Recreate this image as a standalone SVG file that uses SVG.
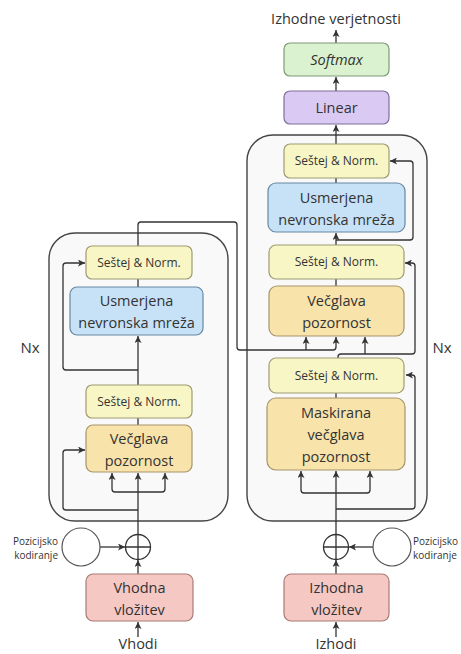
<svg xmlns="http://www.w3.org/2000/svg" width="461" height="654" viewBox="0 0 461 654">
<defs>
<marker id="ah" viewBox="0 0 10 10" refX="10" refY="5" markerWidth="7" markerHeight="7" markerUnits="userSpaceOnUse" orient="auto">
<path d="M0,0 L10,5 L0,10 L2.5,5 z" fill="#333"/>
</marker>
<style>
.c{fill:#f9f9f9;stroke:#444;stroke-width:1.4}
.b{stroke-width:1.2}
.add{fill:#f9f6c6;stroke:#9e9c72}
.ffn{fill:#c7e2f7;stroke:#6688a4}
.mha{fill:#f8e3ab;stroke:#a6966a}
.sm{fill:#daf2d0;stroke:#7f9a77}
.lin{fill:#dacaf3;stroke:#7d6f9c}
.emb{fill:#f6c8c3;stroke:#a87b76}
text{font-family:"Open Sans","Noto Sans","DejaVu Sans",sans-serif;fill:#333;text-anchor:middle}
.t12{font-size:12px}
.t14{font-size:14.5px}
.t9{font-size:10px}
.ln{fill:none;stroke:#333;stroke-width:1.3;stroke-linejoin:round}
.pe{fill:#fff;stroke:#555;stroke-width:1.2}
</style>
</defs>

<rect id="encoder" class="c" x="49" y="233" width="179" height="288" rx="26"/>
<rect id="decoder" class="c" x="247" y="135" width="180" height="386" rx="26"/>

<text x="30" y="353" class="t14" style="font-size:15px">Nx</text>
<text x="442" y="353" class="t14" style="font-size:15px">Nx</text>

<g id="connectors" class="ln">
<!-- encoder -->
<path d="M138,637 V622" marker-end="url(#ah)"/>
<path d="M138,574 V560" marker-end="url(#ah)"/>
<path d="M100,547 H125" marker-end="url(#ah)"/>
<path d="M138,535 V473" marker-end="url(#ah)"/>
<path d="M138,492 H115 Q112,492 112,489 V473" marker-end="url(#ah)"/>
<path d="M138,492 H162 Q165,492 165,489 V473" marker-end="url(#ah)"/>
<path d="M138,510 H66 Q63,510 63,507 V453 Q63,450 66,450 H85" marker-end="url(#ah)"/>
<path d="M138,425 V418"/>
<path d="M138,385 V336" marker-end="url(#ah)"/>
<path d="M138,370 H66 Q63,370 63,367 V266 Q63,263 66,263 H85" marker-end="url(#ah)"/>
<path d="M138,287 V279"/>
<path d="M138,246 V225 Q138,222 141,222 H234 Q237,222 237,225 V347 Q237,350 240,350 H333 Q336,350 336,347 V337" marker-end="url(#ah)"/>
<path d="M306,350 V337" marker-end="url(#ah)"/>
<!-- decoder -->
<path d="M336,637 V622" marker-end="url(#ah)"/>
<path d="M336,574 V560" marker-end="url(#ah)"/>
<path d="M373,547 H349" marker-end="url(#ah)"/>
<path d="M336,535 V471" marker-end="url(#ah)"/>
<path d="M336,493 H304 Q301,493 301,490 V471" marker-end="url(#ah)"/>
<path d="M336,493 H367 Q370,493 370,490 V471" marker-end="url(#ah)"/>
<path d="M336,509 H412 Q415,509 415,506 V378 Q415,375 412,375 H406" marker-end="url(#ah)"/>
<path d="M336,398 V393"/>
<path d="M338,358 V357 Q338,354 341,354 H412 Q415,354 415,351 V266 Q415,263 412,263 H405" marker-end="url(#ah)"/>
<path d="M365,354 V337" marker-end="url(#ah)"/>
<path d="M336,286 V279"/>
<path d="M336,245 V233" marker-end="url(#ah)"/>
<path d="M336,240 H410 Q413,240 413,237 V164 Q413,161 410,161 H390" marker-end="url(#ah)"/>
<path d="M336,183 V178"/>
<path d="M336,144 V125" marker-end="url(#ah)"/>
<path d="M336,91 V77" marker-end="url(#ah)"/>
<path d="M336,43 V30" marker-end="url(#ah)"/>
</g>

<g id="enc_pe">
<circle class="pe" cx="81" cy="547" r="19"/>
<text x="58" y="545" class="t9" style="text-anchor:end">Pozicijsko</text>
<text x="58" y="559" class="t9" style="text-anchor:end">kodiranje</text>
</g>
<g id="enc_plus" class="ln">
<circle cx="138" cy="547" r="12.5" fill="none"/>
<path d="M125.5,547 H150.5 M138,534.5 V559.5"/>
</g>
<g id="enc_embed">
<rect class="emb b" x="86" y="574" width="107" height="47" rx="7"/>
<text x="139.5" y="593" class="t14">Vhodna</text>
<text x="139.5" y="615" class="t14">vložitev</text>
</g>
<text id="vhodi" x="138" y="649" class="t14">Vhodi</text>
<g id="enc_mha">
<rect class="mha b" x="86" y="425" width="106" height="47" rx="7"/>
<text x="139" y="444" class="t14">Večglava</text>
<text x="139" y="466" class="t14">pozornost</text>
</g>
<g id="enc_add1">
<rect class="add b" x="86" y="385" width="106" height="33" rx="6"/>
<text x="139" y="406" class="t12">Seštej &amp; Norm.</text>
</g>
<g id="enc_ffn">
<rect class="ffn b" x="70" y="287" width="133" height="48" rx="7"/>
<text x="136.5" y="306" class="t14">Usmerjena</text>
<text x="136.5" y="328" class="t14">nevronska mreža</text>
</g>
<g id="enc_add2">
<rect class="add b" x="86" y="246" width="106" height="33" rx="6"/>
<text x="139" y="267" class="t12">Seštej &amp; Norm.</text>
</g>

<g id="dec_pe">
<circle class="pe" cx="392" cy="547" r="19"/>
<text x="413" y="545" class="t9" style="text-anchor:start">Pozicijsko</text>
<text x="413" y="559" class="t9" style="text-anchor:start">kodiranje</text>
</g>
<g id="dec_plus" class="ln">
<circle cx="336" cy="547" r="12.5" fill="none"/>
<path d="M323.5,547 H348.5 M336,534.5 V559.5"/>
</g>
<g id="dec_embed">
<rect class="emb b" x="284" y="574" width="105" height="47" rx="7"/>
<text x="336.5" y="593" class="t14">Izhodna</text>
<text x="336.5" y="615" class="t14">vložitev</text>
</g>
<text id="izhodi" x="336" y="649" class="t14">Izhodi</text>
<g id="dec_mmha">
<rect class="mha b" x="267" y="398" width="138" height="72" rx="9"/>
<text x="336" y="418" class="t14">Maskirana</text>
<text x="336" y="440" class="t14">večglava</text>
<text x="336" y="462" class="t14">pozornost</text>
</g>
<g id="dec_add1">
<rect class="add b" x="269" y="358" width="135" height="35" rx="7"/>
<text x="336.5" y="380" class="t12">Seštej &amp; Norm.</text>
</g>
<g id="dec_mha">
<rect class="mha b" x="269" y="286" width="135" height="50" rx="8"/>
<text x="336.5" y="306" class="t14">Večglava</text>
<text x="336.5" y="328" class="t14">pozornost</text>
</g>
<g id="dec_add2">
<rect class="add b" x="269" y="245" width="135" height="34" rx="7"/>
<text x="336.5" y="266" class="t12">Seštej &amp; Norm.</text>
</g>
<g id="dec_ffn">
<rect class="ffn b" x="268" y="183" width="137" height="49" rx="8"/>
<text x="336.5" y="203" class="t14">Usmerjena</text>
<text x="336.5" y="225" class="t14">nevronska mreža</text>
</g>
<g id="dec_add3">
<rect class="add b" x="284" y="144" width="105" height="34" rx="6"/>
<text x="336.5" y="165" class="t12">Seštej &amp; Norm.</text>
</g>
<g id="linear">
<rect class="lin b" x="284" y="91" width="105" height="33" rx="6"/>
<text x="336.5" y="113" class="t14">Linear</text>
</g>
<g id="softmax">
<rect class="sm b" x="284" y="43" width="105" height="33" rx="6"/>
<text x="336.5" y="65" class="t14" style="font-style:italic">Softmax</text>
</g>
<text id="output" x="336" y="24" class="t14">Izhodne verjetnosti</text>
</svg>
